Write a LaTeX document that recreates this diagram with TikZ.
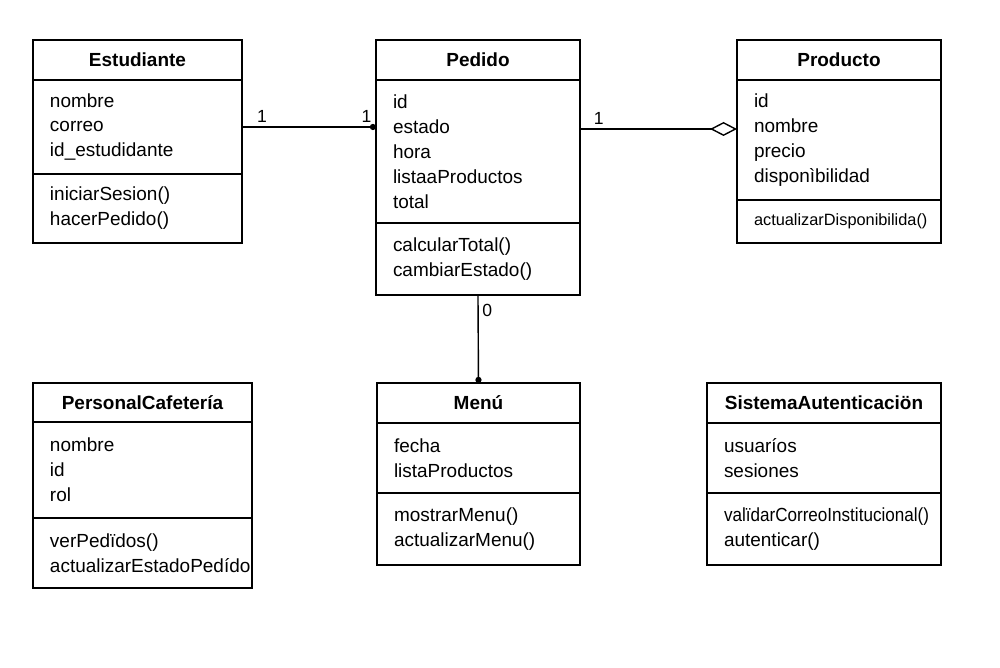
\documentclass[tikz,border=0pt]{standalone}
\usepackage{fontspec}
\setmainfont{Liberation Sans}
\usepackage{graphicx}
\usetikzlibrary{positioning,arrows.meta}

\begin{document}
\begin{tikzpicture}[x=0.02cm,y=-0.02cm,
		titulo/.style={draw,line width=1pt,outer sep=0pt,minimum height=0.8cm,minimum width=#1,
			font=\fontsize{10.8pt}{14.2pt}\selectfont\bfseries},
		miembros/.style={draw,line width=1pt,outer sep=0pt,align=left,inner xsep=0.34cm,inner ysep=0pt,
			text width=#1,font=\fontsize{10.8pt}{14.2pt}\selectfont},
		linea/.style={line width=0.8pt},
		etiqueta/.style={font=\fontsize{10pt}{12pt}\selectfont,inner sep=2pt}]

	\useasboundingbox (0,0) rectangle (1000,667);

	\node[titulo=4.18cm,anchor=north west] (est) at (33,40) {Estudiante};
	\node[miembros=3.5cm,minimum height=1.88cm] (est-a) [below=0pt of est] {nombre\\correo\\id\_estudidante};
	\node[miembros=3.5cm,minimum height=1.38cm] (est-o) [below=0pt of est-a] {iniciarSesion()\\hacerPedido()};

	\node[titulo=4.08cm,anchor=north west] (ped) at (376,40) {Pedido};
	\node[miembros=3.4cm,minimum height=2.86cm] (ped-a) [below=0pt of ped] {id\\estado\\hora\\listaaProductos\\total};
	\node[miembros=3.4cm,minimum height=1.44cm] (ped-o) [below=0pt of ped-a] {calcularTotal()\\cambiarEstado()};

	\node[titulo=4.08cm,anchor=north west] (prod) at (737,40) {Producto};
	\node[miembros=3.4cm,minimum height=2.4cm] (prod-a) [below=0pt of prod] {id\\nombre\\precio\\disponìbilidad};
	\node[miembros=3.4cm,minimum height=0.86cm] (prod-o) [below=0pt of prod-a] {\fontsize{9.3pt}{12pt}\selectfont actualizarDisponibilida()};

	\node[titulo=4.38cm,anchor=north west,minimum height=0.78cm] (pc) at (33,383) {PersonalCafetería};
	\node[miembros=3.7cm,minimum height=1.92cm] (pc-a) [below=0pt of pc] {nombre\\id\\rol};
	\node[miembros=3.7cm,minimum height=1.4cm] (pc-o) [below=0pt of pc-a] {verPedïdos()\\actualizarEstadoPedído};

	\node[titulo=4.06cm,anchor=north west] (menu) at (377,383) {Menú};
	\node[miembros=3.38cm,minimum height=1.4cm] (menu-a) [below=0pt of menu] {fecha\\listaProductos};
	\node[miembros=3.38cm,minimum height=1.44cm] (menu-o) [below=0pt of menu-a] {mostrarMenu()\\actualizarMenu()};

	\node[titulo=4.68cm,anchor=north west] (sa) at (707,383) {SistemaAutenticaciön};
	\node[miembros=4.0cm,minimum height=1.4cm] (sa-a) [below=0pt of sa] {usuaríos\\sesiones};
	\node[miembros=4.0cm,minimum height=1.44cm] (sa-o) [below=0pt of sa-a] {\scalebox{0.9}[1]{valïdarCorreoInstitucional()}\\autenticar()};

	\coordinate (agg) at ([yshift=0.22cm]prod-a.west);

	\draw[linea,-{Circle[length=3.5pt]}] (est-a.east) -- (est-a.east -| ped-a.west)
		node[etiqueta,pos=0.15,above] {1}
		node[etiqueta,pos=0.93,above] {1};
	\draw[linea,-{Diamond[open,length=0.54cm,width=0.28cm]}] (ped-a.east |- agg) -- (agg)
		node[etiqueta,pos=0.12,above] {1};
	\draw[linea,-{Circle[length=3.5pt]}] (ped-o.south) -- (menu.north)
		node[etiqueta,pos=0.18,right] {0};
\end{tikzpicture}
\end{document}
